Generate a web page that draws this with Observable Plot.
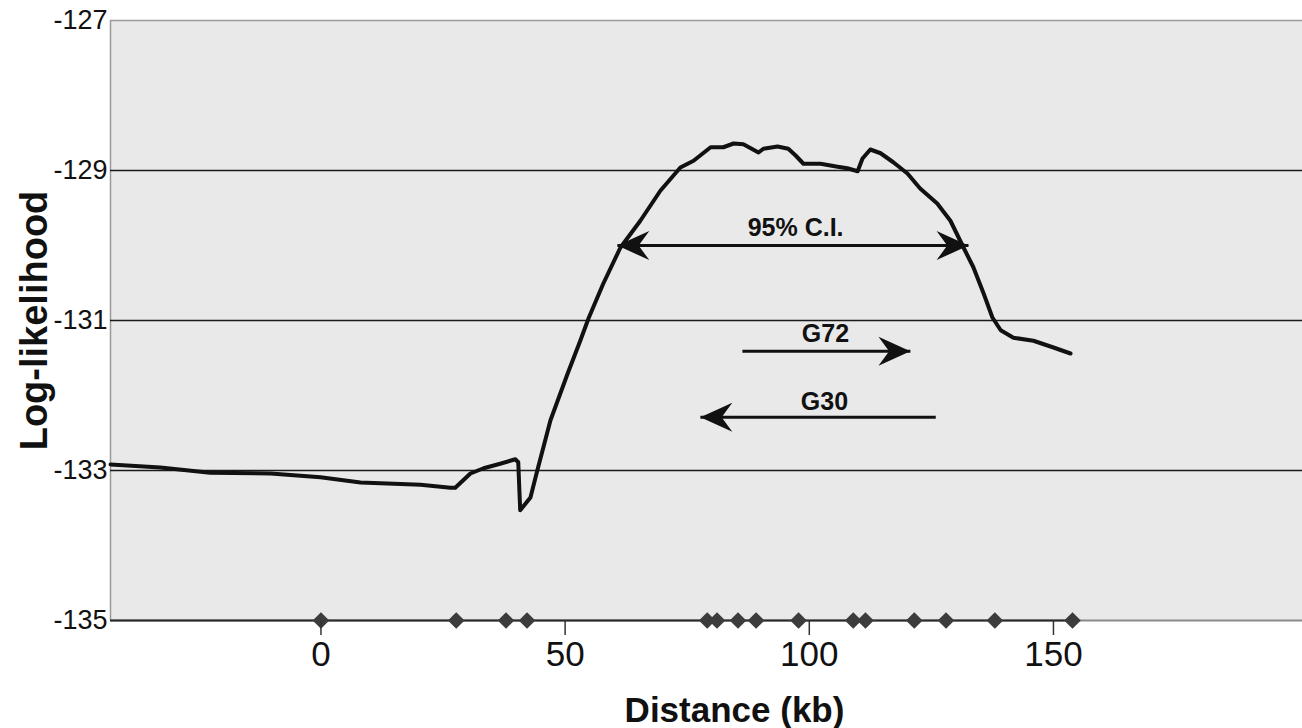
<!DOCTYPE html>
<html>
<head>
<meta charset="utf-8">
<script src="https://cdn.jsdelivr.net/npm/d3@7"></script>
<script src="https://cdn.jsdelivr.net/npm/@observablehq/plot@0.6"></script>
<style>
  body { margin: 0; background: #fff; }
  #chart svg { display: block; }
</style>
</head>
<body>
<div id="chart"></div>
<script>
// ---- Data ----
const distanceKb = [-43.1, -32.9, -22.7, -10.3, -0.1, 8.1, 20.4, 26.5, 27.5, 30.6, 33.3, 36.7, 39.8, 40.4,
  40.8, 42.9, 44.3, 47.0, 50.5, 53.1, 54.8, 57.8, 61.3, 65.4, 69.5, 73.6, 76.3, 79.8, 82.4, 84.5, 86.5,
  89.6, 90.6, 93.5, 95.7, 97.2, 98.8, 102.3, 105.8, 107.8, 109.9, 110.9, 112.5, 114.6, 117.2, 120.1,
  122.7, 126.2, 128.9, 131.6, 133.6, 135.7, 137.5, 139.2, 141.8, 145.9, 150.0, 153.5];
const logLik = [-132.92, -132.96, -133.03, -133.04, -133.09, -133.16, -133.19, -133.23, -133.23, -133.04,
  -132.97, -132.91, -132.85, -132.89, -133.53, -133.36, -133.00, -132.33, -131.71, -131.27, -130.97,
  -130.51, -130.03, -129.67, -129.27, -128.96, -128.87, -128.69, -128.69, -128.64, -128.65, -128.76,
  -128.71, -128.68, -128.71, -128.80, -128.91, -128.91, -128.95, -128.97, -129.01, -128.84, -128.72,
  -128.77, -128.89, -129.04, -129.24, -129.44, -129.67, -130.03, -130.29, -130.64, -130.96, -131.13,
  -131.23, -131.27, -131.36, -131.44];
const markerKb = [0, 27.7, 37.9, 42.2, 79.1, 81.1, 85.4, 89.1, 97.8, 109.0, 111.5, 121.5, 128.0, 138.0, 153.9];

const xTicks = [0, 50, 100, 150];
const xTickLabels = ["0", "50", "100", "150"];
const yTicks = [-135, -133, -131, -129, -127];
const yTickLabels = ["-135", "-133", "-131", "-129", "-127"];
const gridY = [-133, -131, -129];

const arrowNames = ["95% C.I.", "G72", "G30"];
const arrowStart = [60.7, 86.3, 125.9];
const arrowEnd = [132.6, 120.7, 77.7];
const arrowY = [-130.0, -131.41, -132.29];
const arrowDouble = [true, false, false];
const labelX = [97.2, 103.3, 103.1];
const labelY = [-129.77, -131.18, -132.08];

const xTitle = "Distance (kb)";
const yTitle = "Log-likelihood";

// ---- Derived tables ----
const curve = distanceKb.map((x, i) => ({x, y: logLik[i]}));
const markers = markerKb.map(x => ({x, y: -135}));
const arrows = arrowNames.map((name, i) => ({name, x1: arrowStart[i], x2: arrowEnd[i], y: arrowY[i], lx: labelX[i], ly: labelY[i]}));
const heads = [];
arrows.forEach((a, i) => {
  heads.push({x: a.x2, y: a.y, dir: a.x2 > a.x1 ? "right" : "left"});
  if (arrowDouble[i]) heads.push({x: a.x1, y: a.y, dir: a.x1 > a.x2 ? "right" : "left"});
});

function stealth(sign) {
  return {
    draw(ctx, size) {
      const r = Math.sqrt(size);
      ctx.moveTo(0, 0);
      ctx.lineTo(-sign * 2.4 * r, -1.1 * r);
      ctx.lineTo(-sign * 1.6 * r, 0);
      ctx.lineTo(-sign * 2.4 * r, 1.1 * r);
      ctx.closePath();
    }
  };
}

const xMin = d3.min(distanceKb);
const xMax = d3.max(markerKb);
const font = "'Liberation Sans', Arial, Helvetica, sans-serif";

const chart = Plot.plot({
  width: 1302,
  height: 728,
  marginLeft: 110,
  marginRight: 0,
  marginTop: 20,
  marginBottom: 108,
  style: {fontFamily: font, background: "#fff", color: "#111"},
  x: {domain: [-43.1, 201]},
  y: {domain: [-135, -127]},
  marks: [
    Plot.frame({fill: "#e9e9e9", stroke: null}),
    Plot.ruleY([-127], {stroke: "#9a9a9a", strokeWidth: 1.5}),
    Plot.ruleX([-43.1], {stroke: "#9a9a9a", strokeWidth: 1.5}),
    Plot.ruleY(gridY, {stroke: "#1a1a1a", strokeWidth: 1.6}),
    Plot.ruleY([-135], {stroke: "#8a8a8a", strokeWidth: 2}),
    Plot.ruleY([-135], {x1: xMin, x2: xMax, stroke: "#2a2a2a", strokeWidth: 2}),
    Plot.dot(markers, {x: "x", y: "y", symbol: "diamond2", r: 7.5, fill: "#3c3c3c", stroke: null}),
    Plot.line(curve, {x: "x", y: "y", stroke: "#111", strokeWidth: 4, strokeLinejoin: "round"}),
    Plot.link(arrows, {x1: "x1", x2: "x2", y1: "y", y2: "y", stroke: "#111", strokeWidth: 3}),
    Plot.dot(heads.filter(h => h.dir === "right"), {x: "x", y: "y", r: 7.5, symbol: stealth(1), fill: "#111", stroke: null}),
    Plot.dot(heads.filter(h => h.dir === "left"), {x: "x", y: "y", r: 7.5, symbol: stealth(-1), fill: "#111", stroke: null}),
    Plot.text(arrows, {x: "lx", y: "ly", text: "name", fontSize: 25, fontWeight: "bold", fill: "#111", fontFamily: font}),
    Plot.axisX({ticks: xTicks, tickFormat: d => xTickLabels[xTicks.indexOf(d)], tickSize: 15, tickPadding: 6,
      fontSize: 35, label: null, stroke: "#333", strokeWidth: 1.5, fill: "#111"}),
    Plot.axisY({ticks: yTicks, tickFormat: d => yTickLabels[yTicks.indexOf(d)], tickSize: 0, tickPadding: 3,
      fontSize: 27, label: null, fill: "#111"}),
    Plot.text([yTitle], {frameAnchor: "left", dx: -76, rotate: -90, textAnchor: "middle", lineAnchor: "middle",
      fontSize: 38, fontWeight: "bold", fill: "#111", fontFamily: font}),
    Plot.text([xTitle], {frameAnchor: "bottom", dx: 28, dy: 90, textAnchor: "middle", lineAnchor: "middle",
      fontSize: 35, fontWeight: "bold", fill: "#111", fontFamily: font})
  ]
});
document.getElementById("chart").append(chart);
</script>
</body>
</html>
